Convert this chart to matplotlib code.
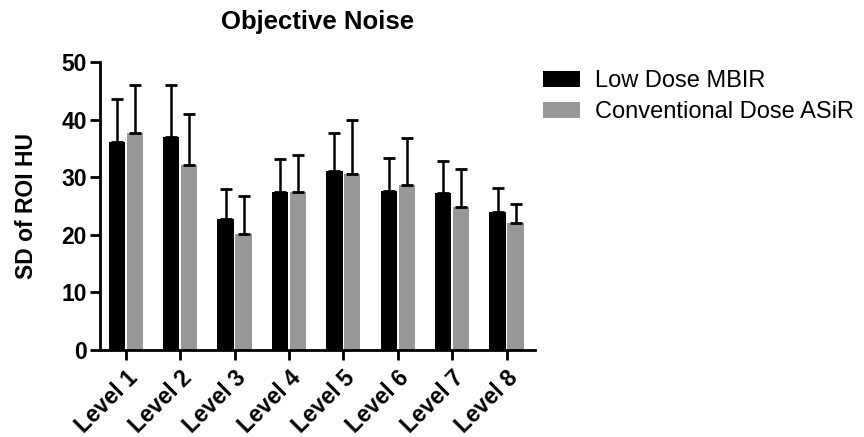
import numpy as np
import matplotlib
matplotlib.use('Agg')
import matplotlib.pyplot as plt

plt.rcParams['font.family'] = ['Liberation Sans', 'DejaVu Sans']

levels = ['Level 1', 'Level 2', 'Level 3', 'Level 4', 'Level 5', 'Level 6', 'Level 7', 'Level 8']
low_dose_mbir = [36.1, 37.0, 22.7, 27.4, 31.1, 27.6, 27.3, 23.9]
low_dose_mbir_top = [43.6, 46.0, 28.0, 33.2, 37.7, 33.3, 32.8, 28.2]
conv_dose_asir = [37.7, 32.2, 20.1, 27.5, 30.5, 28.6, 24.8, 22.0]
conv_dose_asir_top = [46.0, 41.0, 26.7, 33.8, 39.9, 36.9, 31.5, 25.4]

black = '#000000'
gray = '#989898'

x = np.arange(len(levels))
w = 0.3
off = 0.165

fig = plt.figure(figsize=(8.64, 4.37), dpi=100)
ax = fig.add_axes([0.116, 0.199, 0.503, 0.659])

err1 = np.array(low_dose_mbir_top) - np.array(low_dose_mbir)
err2 = np.array(conv_dose_asir_top) - np.array(conv_dose_asir)
zeros = np.zeros(len(levels))

ax.bar(x - off, low_dose_mbir, w, color=black, label='Low Dose MBIR', zorder=2)
ax.bar(x + off, conv_dose_asir, w, color=gray, label='Conventional Dose ASiR', zorder=2)
ax.errorbar(x - off, low_dose_mbir, yerr=[zeros, err1], fmt='none', ecolor='black',
            elinewidth=1.8, capsize=4.5, capthick=2, zorder=3)
ax.errorbar(x + off, conv_dose_asir, yerr=[zeros, err2], fmt='none', ecolor='black',
            elinewidth=1.8, capsize=4.5, capthick=2, zorder=3)

ax.set_xlim(-0.47, 7.52)
ax.set_ylim(0, 50)
ax.set_yticks([0, 10, 20, 30, 40, 50])
ax.set_xticks(x)
ax.set_xticklabels(levels, rotation=45, ha='right', rotation_mode='anchor',
                   fontsize=16.5, fontweight='bold')
for lab in ax.get_yticklabels():
    lab.set_fontsize(16.5)
    lab.set_fontweight('bold')
ax.tick_params(axis='both', direction='out', length=7.5, width=2, pad=2)
ax.tick_params(axis='x', pad=4)

for s in ['top', 'right']:
    ax.spines[s].set_visible(False)
for s in ['left', 'bottom']:
    ax.spines[s].set_linewidth(2)

ax.set_ylabel('SD of ROI HU', fontsize=16.5, fontweight='bold', labelpad=17)
ax.set_title('Objective Noise', fontsize=18.5, fontweight='bold', pad=24)

fig.legend(loc='upper left', bbox_to_anchor=(0.628, 0.84), bbox_transform=fig.transFigure,
           frameon=False, fontsize=17, handlelength=1.6, handleheight=0.65,
           handletextpad=0.6, labelspacing=0.4, borderpad=0, borderaxespad=0)

fig.savefig('out.png', dpi=100)
